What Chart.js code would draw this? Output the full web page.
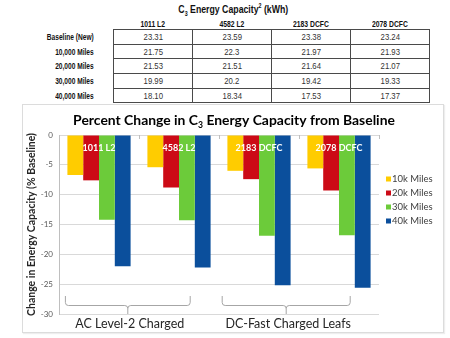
<!DOCTYPE html>
<html>
<head>
<meta charset="utf-8">
<script src="https://cdn.jsdelivr.net/npm/chart.js@4"></script>
<style>
  html, body { margin: 0; padding: 0; background: #fff; }
  body { width: 450px; height: 338px; position: relative; overflow: hidden; }
  .narrow { font-family: "Liberation Sans", Arial, sans-serif; }
  .sq { display: inline-block; transform: scaleX(0.78); white-space: nowrap; }
  .sqr { display: inline-block; transform: scaleX(0.76); transform-origin: right center; white-space: nowrap; }
  .sqv { display: inline-block; transform: scaleX(0.86); white-space: nowrap; }
  .sqt { display: inline-block; transform: scaleX(0.76); white-space: nowrap; }
  #tblTitle {
    position: absolute; left: 113px; top: 1px; width: 240px; text-align: center;
    font-weight: bold; font-size: 11.5px; color: #111; line-height: 16px;
  }
  #tblTitle sub, #tblTitle sup { font-size: 7px; line-height: 0; }
  #capTable {
    position: absolute; left: 20px; top: 19px; border-collapse: collapse; table-layout: fixed;
    font-size: 9px; color: #222;
  }
  #capTable th, #capTable td { padding: 0; }
  #capTable th.col { font-weight: bold; font-size: 8.7px; width: 79px; height: 10px; line-height: 10px; text-align: center; color: #111; }
  #capTable th.row { font-weight: bold; font-size: 8.7px; width: 74px; padding-right: 19px; text-align: right; color: #111; }
  #capTable td { border: 1px solid #4a4a4a; text-align: center; color: #333; }
  #capTable tr.data { height: 14.7px; }
  #chartBox {
    position: absolute; left: 22px; top: 104px; width: 420px; height: 227px;
    border: 1px solid #dcdcdc; box-shadow: 1px 1px 1px #eeeeee;
  }
  #chartBox canvas { display: block; }
</style>
</head>
<body>
<div id="tblTitle" class="narrow"><span class="sqt">C<sub>3</sub> Energy Capacity<sup>2</sup> (kWh)</span></div>
<table id="capTable" class="narrow"></table>
<div id="chartBox"><canvas id="c" width="420" height="227" style="width:420px;height:227px"></canvas></div>
<script>
// Leaf packs tested and the charging type of each
const packs = ['1011 L2', '4582 L2', '2183 DCFC', '2078 DCFC'];
const tableRowLabels = ['Baseline (New)', '10,000 Miles', '20,000 Miles', '30,000 Miles', '40,000 Miles'];

// Measured C3 capacity in kWh, one array per pack (rows follow tableRowLabels)
const kwh1011 = ['23.31', '21.75', '21.53', '19.99', '18.10'];
const kwh4582 = ['23.59', '22.3', '21.51', '20.2', '18.34'];
const kwh2183 = ['23.38', '21.97', '21.64', '19.42', '17.53'];
const kwh2078 = ['23.24', '21.93', '21.07', '19.33', '17.37'];

// Percent change from baseline, one array per mileage (values per pack)
const mileageLabels = ['10k Miles', '20k Miles', '30k Miles', '40k Miles'];
const change10k = [-6.7, -5.4, -6.0, -5.6];
const change20k = [-7.6, -8.8, -7.4, -9.3];
const change30k = [-14.2, -14.3, -16.9, -16.8];
const change40k = [-22.0, -22.2, -25.2, -25.6];

const yTicks = { min: -30, max: 0, step: 5 };
const chargeGroups = ['AC Level-2 Charged', 'DC-Fast Charged Leafs'];

const seriesColors = ['#FFCC00', '#CC0A16', '#6CCB3A', '#0B4F9C'];
const FONT = 'Lato, "Open Sans", "Liberation Sans", sans-serif';

// ---- capacity table ----
(function buildTable() {
  const cols = [kwh1011, kwh4582, kwh2183, kwh2078];
  const t = document.getElementById('capTable');
  let html = '<tr><th class="row"></th>' +
    packs.map(p => '<th class="col"><span class="sq">' + p + '</span></th>').join('') + '</tr>';
  tableRowLabels.forEach((lab, r) => {
    html += '<tr class="data"><th class="row"><span class="sqr">' + lab + '</span></th>' +
      cols.map(c => '<td><span class="sqv">' + c[r] + '</span></td>').join('') + '</tr>';
  });
  t.innerHTML = html;
})();

// ---- chart plugins ----
const decorations = {
  id: 'decorations',
  afterDatasetsDraw(chart) {
    const { ctx, chartArea: a, scales: { x, y } } = chart;
    ctx.save();
    // pack names across the top of each group
    ctx.fillStyle = '#ffffff';
    ctx.font = 'bold 9px ' + FONT;
    ctx.textAlign = 'center';
    ctx.textBaseline = 'middle';
    packs.forEach((p, i) => ctx.fillText(p, x.getPixelForValue(i), y.getPixelForValue(-2.2)));
    // small tick marks on the zero line between categories
    ctx.strokeStyle = '#bfbfbf';
    ctx.lineWidth = 1;
    const y0 = y.getPixelForValue(0);
    const step = (a.right - a.left) / packs.length;
    for (let k = 0; k <= packs.length; k++) {
      const px = Math.round(a.left + k * step) + 0.5;
      ctx.beginPath(); ctx.moveTo(px, y0); ctx.lineTo(px, y0 + 4); ctx.stroke();
    }
    ctx.restore();
  },
  afterDraw(chart) {
    const { ctx, chartArea: a } = chart;
    const w = a.right - a.left;
    ctx.save();

    // title with subscript
    const parts = [['Percent Change in C', 1], ['3', 0.62], [' Energy Capacity from Baseline', 1]];
    let base = 16;
    const measure = s => { let t = 0; parts.forEach(([txt, k]) => { ctx.font = 'bold ' + (s * k) + 'px ' + FONT; t += ctx.measureText(txt).width; }); return t; };
    base = base * 322 / measure(base);
    const total = measure(base);
    let tx = a.left + 175 - total / 2;
    const ty = 16;
    ctx.fillStyle = '#000000';
    ctx.textBaseline = 'middle';
    ctx.textAlign = 'left';
    parts.forEach(([txt, k], i) => {
      ctx.font = 'bold ' + (base * k) + 'px ' + FONT;
      ctx.fillText(txt, tx, ty + (i === 1 ? base * 0.3 : 0));
      tx += ctx.measureText(txt).width;
    });

    // legend
    ctx.font = '9.5px ' + FONT;
    chart.data.datasets.forEach((ds, i) => {
      const ly = a.top + 44 + i * 14;
      ctx.fillStyle = ds.backgroundColor;
      ctx.fillRect(a.right + 7, ly - 2.5, 5, 5);
      ctx.fillStyle = '#404040';
      ctx.fillText(ds.label, a.right + 13, ly);
    });

    // group braces and their labels
    const spans = [[0.02, 0.41], [0.51, 0.91]];
    ctx.strokeStyle = '#a6a6a6';
    ctx.lineWidth = 1;
    const yTop = a.bottom - 18, yMid = a.bottom - 8.5, r = 3;
    spans.forEach(([f0, f1], i) => {
      const l = a.left + f0 * w, rr = a.left + f1 * w, c = (l + rr) / 2;
      ctx.beginPath();
      ctx.moveTo(l, yTop);
      ctx.lineTo(l, yMid - r);
      ctx.quadraticCurveTo(l, yMid, l + r, yMid);
      ctx.lineTo(c - r, yMid);
      ctx.quadraticCurveTo(c, yMid, c, yMid + r);
      ctx.lineTo(c, a.bottom);
      ctx.moveTo(c, yMid + r);
      ctx.quadraticCurveTo(c, yMid, c + r, yMid);
      ctx.lineTo(rr - r, yMid);
      ctx.quadraticCurveTo(rr, yMid, rr, yMid - r);
      ctx.lineTo(rr, yTop);
      ctx.stroke();
      ctx.fillStyle = '#262626';
      ctx.font = '12.5px ' + FONT;
      ctx.textAlign = 'center';
      ctx.fillText(chargeGroups[i], c + 2, a.bottom + 10);
    });
    ctx.restore();
  }
};

new Chart(document.getElementById('c'), {
  type: 'bar',
  data: {
    labels: packs,
    datasets: [change10k, change20k, change30k, change40k].map((d, i) => ({
      label: mileageLabels[i],
      data: d,
      backgroundColor: seriesColors[i],
      borderWidth: 0,
      barPercentage: 1,
      categoryPercentage: 0.79
    }))
  },
  options: {
    responsive: false,
    animation: false,
    devicePixelRatio: 1,
    layout: { padding: { left: 0, top: 30, right: 64, bottom: 18 } },
    plugins: { legend: { display: false }, title: { display: false }, tooltip: { enabled: false } },
    scales: {
      x: { display: false },
      y: {
        min: yTicks.min, max: yTicks.max,
        ticks: { stepSize: yTicks.step, color: '#595959', font: { size: 8, family: FONT }, padding: 6 },
        grid: { color: '#d9d9d9', drawTicks: false },
        border: { display: true, color: '#bfbfbf' },
        title: {
          display: true, text: 'Change in Energy Capacity (% Baseline)',
          color: '#262626', font: { size: 10.5, weight: 'bold', family: FONT }, padding: { top: 2.5, bottom: 0 }
        },
        afterFit(s) { s.width = 36; }
      }
    }
  },
  plugins: [decorations]
});
</script>
</body>
</html>
